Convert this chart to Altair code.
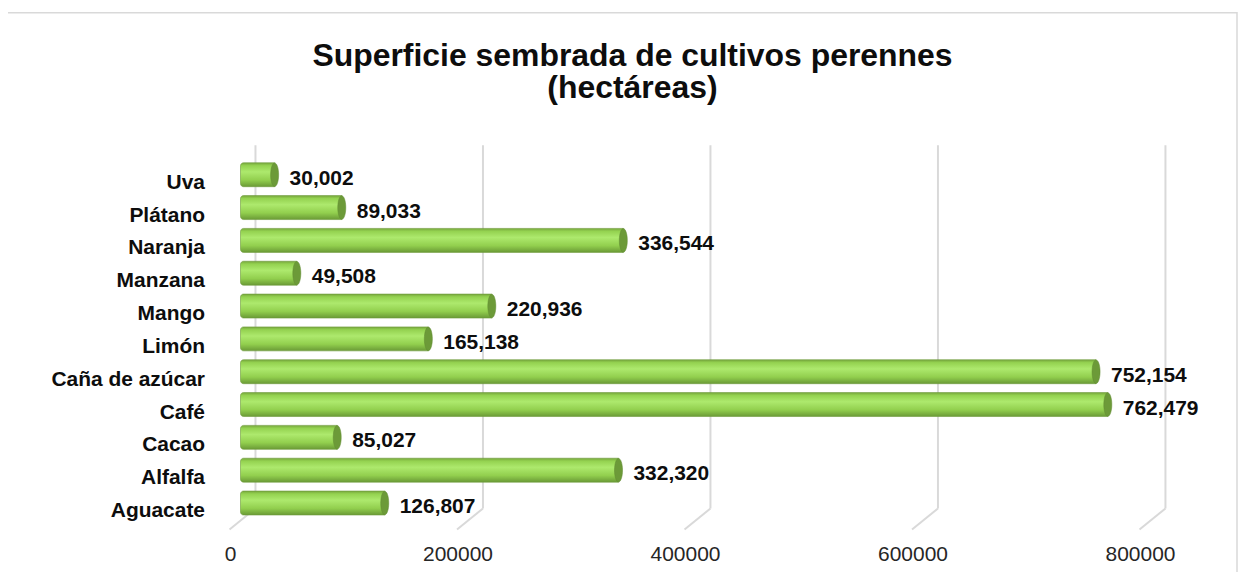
import altair as alt
import pandas as pd

# ---- data ----
cultivos = ["Uva", "Plátano", "Naranja", "Manzana", "Mango", "Limón",
            "Caña de azúcar", "Café", "Cacao", "Alfalfa", "Aguacate"]
hectareas = [30002, 89033, 336544, 49508, 220936, 165138,
             752154, 762479, 85027, 332320, 126807]
ticks = [0, 200000, 400000, 600000, 800000]
tick_labels = ["0", "200000", "400000", "600000", "800000"]
titulo = ["Superficie sembrada de cultivos perennes", "(hectáreas)"]

df = pd.DataFrame({"cultivo": cultivos, "valor": hectareas})
df["etiqueta"] = [f"{v:,}" for v in hectareas]
tdf = pd.DataFrame({"t": ticks, "lab": tick_labels})
titdf = pd.DataFrame({"txt": ["\n".join(titulo)]})

FONT = "Liberation Sans"
W, H = 1000, 362
xscale = alt.Scale(domain=[-29000, 848000], nice=False, zero=False)
yscale = alt.Scale(domain=cultivos, paddingInner=0.27, paddingOuter=0.135)

base = alt.Chart(df)
tb = alt.Chart(tdf)

# chart border
border = tb.mark_rect(fill=None, stroke="#d9d9d9", strokeWidth=1.5).encode(
    x=alt.value(-202), x2=alt.value(1032), y=alt.value(-146), y2=alt.value(600)
).transform_filter("datum.t == 0")

# title (two lines)
title_text = alt.Chart(titdf).mark_text(
    font=FONT, fontSize=32, fontWeight="bold", color="#0d0d0d",
    align="center", baseline="alphabetic", lineBreak="\n", lineHeight=33,
).encode(
    x=alt.value(426),
    y=alt.value(-93),
    text="txt:N",
)

# back-wall gridlines
grid = tb.mark_rule(color="#d9d9d9", strokeWidth=2, xOffset=15).encode(
    x=alt.X("t:Q", scale=xscale, axis=None),
    y=alt.value(-13), y2=alt.value(351),
)
# floor slants
slant = tb.mark_rule(color="#d9d9d9", strokeWidth=2, xOffset=15, x2Offset=-11).encode(
    x=alt.X("t:Q", scale=xscale, axis=None), x2="t:Q",
    y=alt.value(351), y2=alt.value(372),
)
tick_text = tb.mark_text(font=FONT, fontSize=21, color="#262626", dx=-10,
                         baseline="middle", align="center").encode(
    x=alt.X("t:Q", scale=xscale, axis=None),
    y=alt.value(398),
    text="lab:N",
)

grad = alt.Gradient(
    gradient="linear", x1=0, x2=0, y1=0, y2=1,
    stops=[
        alt.GradientStop(offset=0.0, color="#76a63c"),
        alt.GradientStop(offset=0.12, color="#94d250"),
        alt.GradientStop(offset=0.38, color="#ade96d"),
        alt.GradientStop(offset=0.72, color="#92cf4e"),
        alt.GradientStop(offset=1.0, color="#6a9a36"),
    ],
)

bars = base.mark_bar(fill=grad, stroke="#6f9a3c", strokeWidth=0.6,
                     cornerRadiusTopLeft=3, cornerRadiusBottomLeft=3).encode(
    x=alt.X("valor:Q", scale=xscale, axis=None),
    x2=alt.datum(0),
    y=alt.Y("cultivo:N", scale=yscale, sort=cultivos, title=None,
            axis=alt.Axis(domain=False, ticks=False, grid=False, labelPadding=3,
                          labelFont=FONT, labelFontSize=21, labelFontWeight="bold",
                          labelColor="#0d0d0d", labelOffset=8)),
)

cap = base.mark_point(
    shape="M0,-1A0.34,1,0,1,1,0,1A0.34,1,0,1,1,0,-1Z",
    filled=True, fill="#6c9a38", stroke="#5f8a30", strokeWidth=0.5, opacity=1, size=560,
).encode(
    x=alt.X("valor:Q", scale=xscale, axis=None),
    y=alt.Y("cultivo:N", scale=yscale, sort=cultivos),
)

labels = base.mark_text(font=FONT, fontSize=21, fontWeight="bold", color="#0d0d0d",
                        align="left", baseline="middle", dx=15, dy=4).encode(
    x=alt.X("valor:Q", scale=xscale, axis=None),
    y=alt.Y("cultivo:N", scale=yscale, sort=cultivos),
    text="etiqueta:N",
)

chart = alt.layer(border, title_text, grid, slant, tick_text, bars, cap, labels).properties(
    width=W, height=H,
    autosize=alt.AutoSizeParams(type="none"),
    padding={"left": 200, "top": 150, "right": 34, "bottom": 52},
    background="white",
).configure_view(stroke=None)

chart.save("out.html", embed_options={"renderer": "svg", "actions": False})
